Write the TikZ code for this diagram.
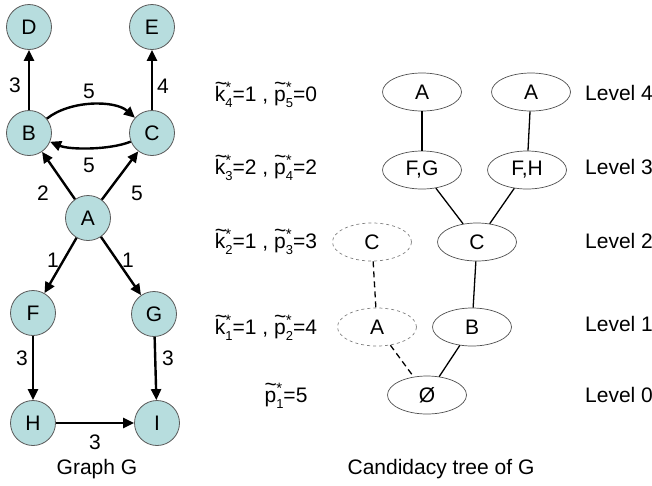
\documentclass[tikz,border=0pt]{standalone}
\usepackage{fontspec}
\setmainfont{Liberation Sans}
\usetikzlibrary{arrows.meta,shapes.geometric}
\definecolor{nodefill}{RGB}{183,221,222}
\definecolor{nodeedge}{RGB}{90,90,90}
\definecolor{elledge}{RGB}{80,80,80}
\newcommand{\tildeletter}[1]{\rlap{\raisebox{0.52em}{\char"7E}}#1}
\newcommand{\starsub}[2]{\tildeletter{#1}\rlap{\raisebox{0.42em}{\fontsize{15}{15}\selectfont *}}\raisebox{-0.3em}{\fontsize{13}{13}\selectfont #2}}
\begin{document}
\begin{tikzpicture}[x=1pt,y=-1pt,
  font=\fontsize{21}{24}\selectfont,
  gnode/.style={circle,draw=nodeedge,line width=0.8pt,fill=nodefill,minimum size=45pt,inner sep=0pt},
  tnode/.style={ellipse,draw=elledge,line width=0.7pt,minimum width=79pt,minimum height=38pt,inner sep=0pt},
  dnode/.style={tnode,dashed,draw=gray},
  garrow/.style={line width=2.4pt,-{Triangle[length=11pt,width=10pt]}},
  tline/.style={line width=1.3pt},
  dline/.style={line width=1.3pt,dash pattern=on 6pt off 4pt},
  lbl/.style={inner sep=0pt}]
\useasboundingbox (0,0) rectangle (652,485);
% Graph G
\node[gnode] (D) at (29,27) {D};
\node[gnode] (E) at (152,27) {E};
\node[gnode] (B) at (29,133) {B};
\node[gnode] (C) at (152,133) {C};
\node[gnode] (A) at (88,218) {A};
\node[gnode] (F) at (33,313) {F};
\node[gnode] (G) at (154,314) {G};
\node[gnode] (H) at (33,423) {H};
\node[gnode] (I) at (157,423) {I};
\draw[garrow] (B) -- (D);
\draw[garrow] (C) -- (E);
\draw[garrow] (B) .. controls (70,100) and (115,100) .. (C);
\draw[garrow] (C) .. controls (110,150) and (70,150) .. (B);
\draw[garrow] (A) -- (B);
\draw[garrow] (A) -- (C);
\draw[garrow] (A) -- (F);
\draw[garrow] (A) -- (G);
\draw[garrow] (F) -- (H);
\draw[garrow] (G) -- (I);
\draw[garrow] (H) -- (I);
\node[lbl] (lBD) at (15,85) {3};
\node[lbl] (lCE) at (163,86) {4};
\node[lbl] (lBC) at (89,91) {5};
\node[lbl] (lCB) at (89,165) {5};
\node[lbl] (lAB) at (43,193) {2};
\node[lbl] (lAC) at (137,193) {5};
\node[lbl] (lAF) at (53,260) {1};
\node[lbl] (lAG) at (128,260) {1};
\node[lbl] (lFH) at (22,358) {3};
\node[lbl] (lGI) at (168,358) {3};
\node[lbl] (lHI) at (95,442) {3};
\node[lbl] (title1) at (97,469) {Graph G};
% middle labels
\node[lbl] (r4) at (266,95) {\starsub{k}{4}=1 , \starsub{p}{5}=0};
\node[lbl] (r3) at (266,168) {\starsub{k}{3}=2 , \starsub{p}{4}=2};
\node[lbl] (r2) at (266,242) {\starsub{k}{2}=1 , \starsub{p}{3}=3};
\node[lbl] (r1) at (266,328) {\starsub{k}{1}=1 , \starsub{p}{2}=4};
\node[lbl] (r0) at (286,396) {\starsub{p}{1}=5};
% tree
\node[tnode] (tA1) at (422,92) {A};
\node[tnode] (tA2) at (531,92) {A};
\node[tnode] (tFG) at (422,170) {F,G};
\node[tnode] (tFH) at (527,170) {F,H};
\node[dnode] (tCd) at (372,242) {C};
\node[tnode] (tC) at (477,242) {C};
\node[dnode] (tAd) at (377,327) {A};
\node[tnode] (tB) at (472,327) {B};
\node[tnode] (t0) at (427,395) {Ø};
\draw[tline] (tA1) -- (tFG);
\draw[tline] (tA2) -- (tFH);
\draw[tline] (tFG) -- (tC);
\draw[tline] (tFH) -- (tC);
\draw[tline] (tC) -- (tB);
\draw[tline] (tB) -- (t0);
\draw[dline] (tCd) -- (tAd);
\draw[dline] (tAd) -- (t0);
\node[lbl,anchor=west] (L4) at (585,93) {Level 4};
\node[lbl,anchor=west] (L3) at (585,167) {Level 3};
\node[lbl,anchor=west] (L2) at (585,241) {Level 2};
\node[lbl,anchor=west] (L1) at (585,324) {Level 1};
\node[lbl,anchor=west] (L0) at (585,395) {Level 0};
\node[lbl] (title2) at (441,469) {Candidacy tree of G};
\end{tikzpicture}
\end{document}
